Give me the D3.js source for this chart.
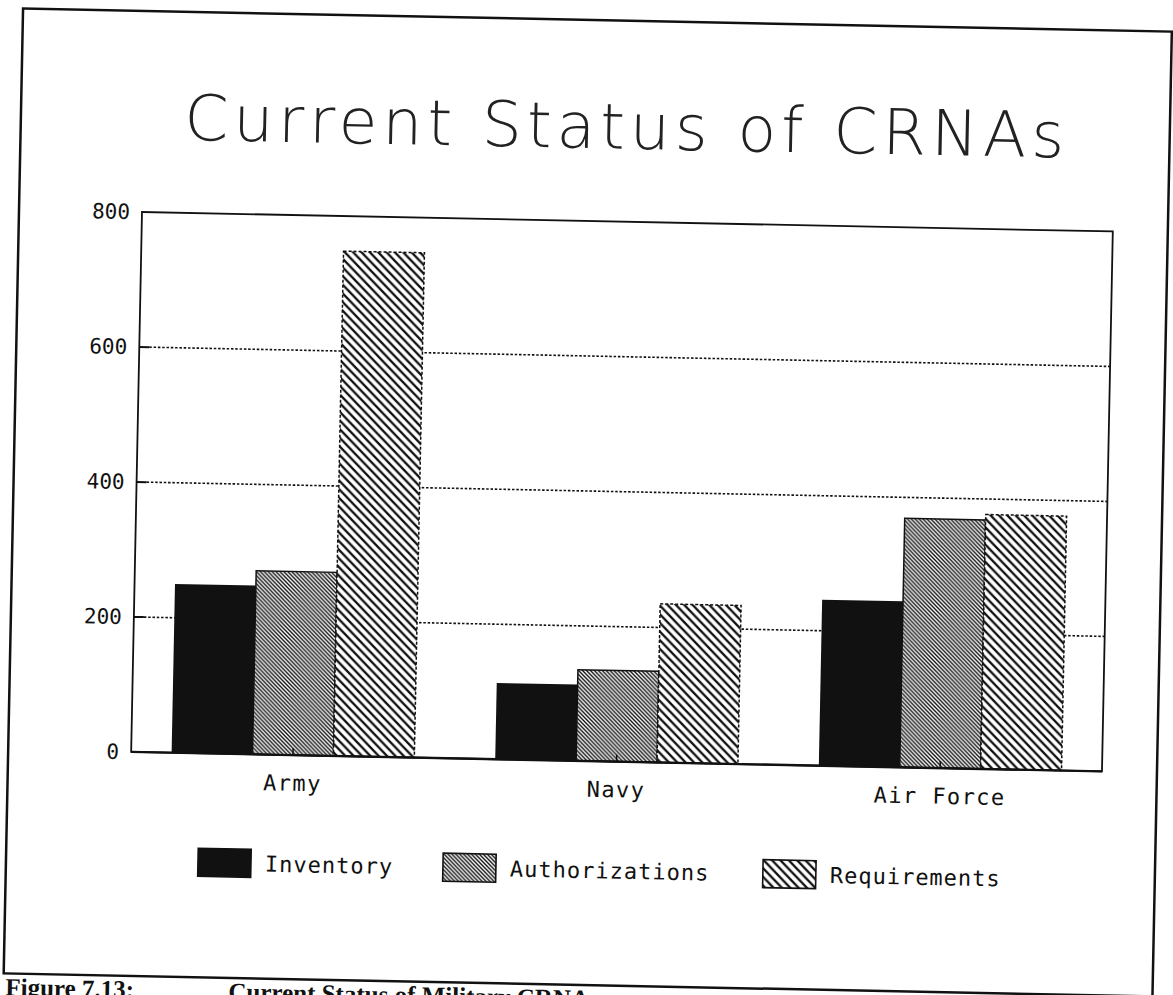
<!DOCTYPE html>
<html>
<head>
<meta charset="utf-8">
<script src="https://cdn.jsdelivr.net/npm/d3@7"></script>
<style>
body { margin: 0; background: #fff; }
</style>
</head>
<body>
<script>
var w = 1173;
var h = 995;

var categories = ["Army", "Navy", "Air Force"];
var seriesNames = ["Inventory", "Authorizations", "Requirements"];
var inventory = [250, 113, 246];
var authorizations = [272, 135, 369];
var requirements = [748, 235, 377];
var yTicks = [0, 200, 400, 600, 800];
var gridValues = [200, 400, 600];

// plot box (before the scan tilt)
var plotLeft = 142, plotTop = 212, plotRight = 1113, plotBottom = 752;
var ink = "#111";
var monoFont = "'DejaVu Sans Mono', monospace";

var table = categories.map(function(c, i) {
  return { category: c, values: [inventory[i], authorizations[i], requirements[i]] };
});

var x0 = d3.scaleBand()
  .domain(categories)
  .range([plotLeft, plotRight])
  .paddingInner(0.25)
  .paddingOuter(0.125);

var x1 = d3.scaleBand()
  .domain(seriesNames)
  .range([0, x0.bandwidth()]);

var y = d3.scaleLinear()
  .domain([0, 800])
  .range([plotBottom, plotTop]);

var fill = d3.scaleOrdinal()
  .domain(seriesNames)
  .range([ink, "url(#hatchFine)", "url(#hatchCoarse)"]);

var svg = d3.select("body")
  .append("svg")
  .attr("width", w)
  .attr("height", h);

var defs = svg.append("defs");

function hatch(id, s, sw) {
  var p = defs.append("pattern")
    .attr("id", id)
    .attr("patternUnits", "userSpaceOnUse")
    .attr("width", s)
    .attr("height", s);
  p.append("rect").attr("width", s).attr("height", s).attr("fill", "#fff");
  p.append("path")
    .attr("d", "M0,0L" + s + "," + s + "M-1," + (s - 1) + "L1," + (s + 1) + "M" + (s - 1) + ",-1L" + (s + 1) + ",1")
    .attr("stroke", ink)
    .attr("stroke-width", sw);
}
hatch("hatchFine", 4, 1.4);
hatch("hatchCoarse", 8.5, 2.3);

// the whole page is scanned slightly tilted
var g = svg.append("g")
  .attr("transform", "rotate(1.15," + plotLeft + "," + plotTop + ")");

// page border
g.append("rect")
  .attr("x", 19)
  .attr("y", 11)
  .attr("width", 1149)
  .attr("height", 965)
  .attr("fill", "none")
  .attr("stroke", ink)
  .attr("stroke-width", 2.5);

// title
g.append("text")
  .attr("x", (plotLeft + plotRight) / 2 - 5)
  .attr("y", 139)
  .attr("text-anchor", "middle")
  .attr("textLength", 880)
  .attr("lengthAdjust", "spacing")
  .style("font-family", "'DejaVu Sans', sans-serif")
  .style("font-weight", 200)
  .style("font-size", "63px")
  .attr("fill", "#222")
  .text("Current Status of CRNAs");

// grid lines
var grid = g.append("g").attr("class", "grid");
grid.selectAll("line.tick")
  .data(gridValues)
  .enter()
  .append("line")
  .attr("class", "tick")
  .attr("x1", plotLeft)
  .attr("x2", plotLeft + 10)
  .attr("y1", function(d) { return y(d); })
  .attr("y2", function(d) { return y(d); })
  .attr("stroke", ink)
  .attr("stroke-width", 2);
grid.selectAll("line.dots")
  .data(gridValues)
  .enter()
  .append("line")
  .attr("class", "dots")
  .attr("x1", plotLeft + 10)
  .attr("x2", plotRight)
  .attr("y1", function(d) { return y(d); })
  .attr("y2", function(d) { return y(d); })
  .attr("stroke", ink)
  .attr("stroke-width", 1.6)
  .attr("stroke-dasharray", "2.5,1.8");

// bars
var groups = g.selectAll("g.cat")
  .data(table)
  .enter()
  .append("g")
  .attr("class", "cat")
  .attr("transform", function(d) { return "translate(" + x0(d.category) + ",0)"; });

groups.selectAll("rect")
  .data(function(d) {
    return d.values.map(function(v, i) { return { key: seriesNames[i], value: v }; });
  })
  .enter()
  .append("rect")
  .attr("x", function(d) { return x1(d.key); })
  .attr("y", function(d) { return y(d.value); })
  .attr("width", x1.bandwidth())
  .attr("height", function(d) { return y(0) - y(d.value); })
  .attr("fill", function(d) { return fill(d.key); })
  .attr("stroke", function(d) { return d.key === "Inventory" ? "none" : ink; })
  .attr("stroke-width", 1.5)
  .attr("stroke-dasharray", function(d) { return d.key === "Requirements" ? "3,2" : null; });

// plot frame
g.append("rect")
  .attr("x", plotLeft)
  .attr("y", plotTop)
  .attr("width", plotRight - plotLeft)
  .attr("height", plotBottom - plotTop)
  .attr("fill", "none")
  .attr("stroke", ink)
  .attr("stroke-width", 1.8);
g.append("line")
  .attr("x1", plotLeft)
  .attr("x2", plotRight)
  .attr("y1", y(0))
  .attr("y2", y(0))
  .attr("stroke", ink)
  .attr("stroke-width", 2.4);

// axes
var yAxis = g.append("g")
  .attr("transform", "translate(" + plotLeft + ",0)")
  .call(d3.axisLeft(y).tickValues(yTicks).tickSize(0).tickPadding(12));
yAxis.select(".domain").remove();
yAxis.selectAll("text")
  .style("font-family", monoFont)
  .style("font-size", "21px")
  .attr("fill", ink);

var xAxis = g.append("g")
  .attr("transform", "translate(0," + plotBottom + ")")
  .call(d3.axisBottom(x0).tickSize(-7).tickPadding(20));
xAxis.select(".domain").remove();
xAxis.selectAll("line").attr("stroke", ink).attr("stroke-width", 1.5);
xAxis.selectAll("text")
  .style("font-family", monoFont)
  .style("font-size", "22px")
  .style("letter-spacing", "1.4px")
  .attr("fill", ink);

// legend
var legendX = [211, 456, 776];
var legendY = 847;
var legend = g.selectAll("g.legend")
  .data(seriesNames)
  .enter()
  .append("g")
  .attr("class", "legend")
  .attr("transform", function(d, i) { return "translate(" + legendX[i] + "," + legendY + ")"; });
legend.append("rect")
  .attr("width", 53)
  .attr("height", 28)
  .attr("fill", function(d) { return fill(d); })
  .attr("stroke", ink)
  .attr("stroke-width", 1.6);
legend.append("text")
  .attr("x", 67)
  .attr("y", 22)
  .style("font-family", monoFont)
  .style("font-size", "22px")
  .style("letter-spacing", "1px")
  .attr("fill", ink)
  .text(function(d) { return d; });

// caption of the page, cut off by the scan
var caption = g.append("text")
  .attr("x", 21)
  .attr("y", 998)
  .style("font-family", "'Liberation Serif', serif")
  .style("font-weight", "bold")
  .style("font-size", "25px")
  .attr("fill", ink);
caption.append("tspan").text("Figure 7.13:");
caption.append("tspan").attr("x", 244).text("Current Status of Military CRNAs");
</script>
</body>
</html>
